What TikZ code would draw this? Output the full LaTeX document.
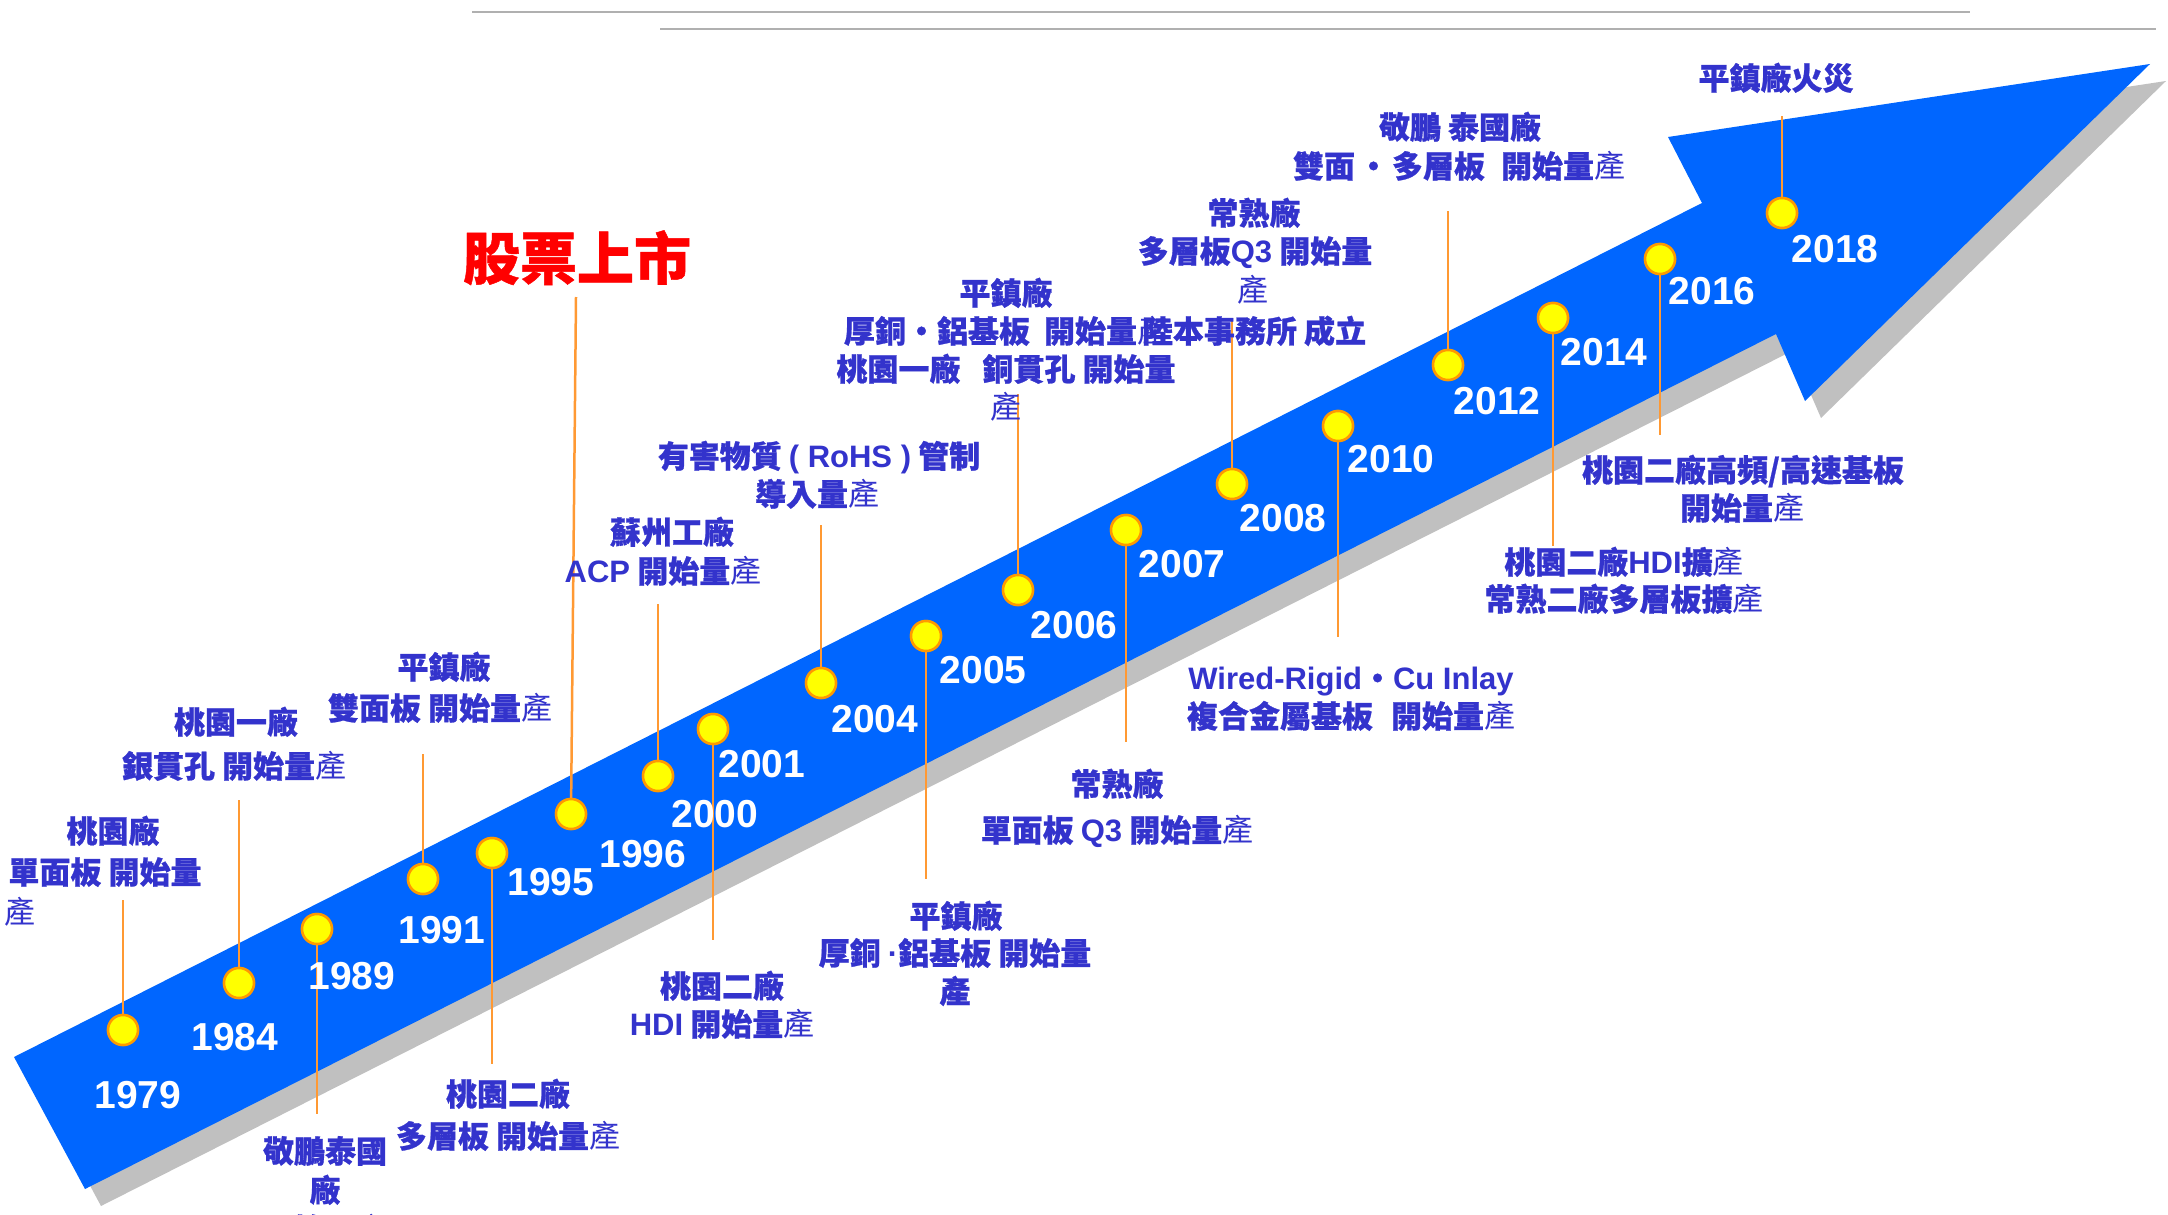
\documentclass[tikz,border=0pt]{standalone}
\usepackage{fontspec}
\newfontfamily\cjk{Noto Sans CJK TC}[BoldFeatures={FakeBold=0.8}]
\newfontfamily\lat{Liberation Sans}
\definecolor{arrowblue}{RGB}{0,102,255}
\definecolor{shadowgray}{RGB}{192,192,192}
\definecolor{lblue}{RGB}{51,51,204}
\definecolor{leadorange}{RGB}{255,153,51}
\definecolor{dotyellow}{RGB}{255,255,0}
\definecolor{dotborder}{RGB}{255,153,0}
\definecolor{rulegray}{RGB}{176,176,176}
\newcommand\cn{{\mdseries 產}}
\begin{document}
\begin{tikzpicture}[x=1pt,y=-1pt,
  lbl/.style={text=lblue, font=\cjk\bfseries\fontsize{31}{39}\selectfont, inner sep=0pt, text height=26pt, text depth=2.5pt},
  yr/.style={text=white, font=\lat\bfseries\fontsize{39}{39}\selectfont, inner sep=0pt, text height=28pt, text depth=0pt},
  titlelbl/.style={text=red, font=\cjk\bfseries\fontsize{57}{57}\selectfont, inner sep=0pt, text height=48pt, text depth=4.5pt},
  dot/.style={circle, minimum size=30pt, inner sep=0pt, fill=dotyellow, draw=dotborder, line width=2.5pt},
  lead/.style={draw=leadorange, line width=2.5pt},
  rule/.style={draw=rulegray, line width=2pt}]
\useasboundingbox (0,0) rectangle (2168,1215);
\clip (0,0) rectangle (2168,1215);
% top rules
\coordinate (r1a) at (472,12); \coordinate (r1b) at (1970,12);
\coordinate (r2a) at (660,29); \coordinate (r2b) at (2156,29);
\draw[rule] (r1a) -- (r1b);
\draw[rule] (r2a) -- (r2b);
% arrow shadow and arrow
\fill[shadowgray, shift={(16,17)}] (14,1057) -- (1702,203) -- (1668,137) -- (2150,64) -- (1805,401) -- (1776,334) -- (85,1189) -- cycle;
\fill[arrowblue] (14,1057) -- (1702,203) -- (1668,137) -- (2150,64) -- (1805,401) -- (1776,334) -- (85,1189) -- cycle;
% line ends
\coordinate (e1979) at (123,900);
\coordinate (e1984) at (239,800);
\coordinate (e1989) at (317,1114);
\coordinate (e1991) at (423,754);
\coordinate (e1995) at (492,1064);
\coordinate (e1996) at (576,297);
\coordinate (e2000) at (658,604);
\coordinate (e2001) at (713,940);
\coordinate (e2004) at (821,525);
\coordinate (e2005) at (926,879);
\coordinate (e2006) at (1018,394);
\coordinate (e2007) at (1126,742);
\coordinate (e2008) at (1232,318);
\coordinate (e2010) at (1338,637);
\coordinate (e2012) at (1448,211);
\coordinate (e2014) at (1553,546);
\coordinate (e2016) at (1660,435);
\coordinate (e2018) at (1782,116);
% dots
\node[dot] (d1979) at (123,1030) {};
\node[dot] (d1984) at (239,983) {};
\node[dot] (d1989) at (317,929) {};
\node[dot] (d1991) at (423,879) {};
\node[dot] (d1995) at (492,853) {};
\node[dot] (d1996) at (571,814) {};
\node[dot] (d2000) at (658,776) {};
\node[dot] (d2001) at (713,729) {};
\node[dot] (d2004) at (821,683) {};
\node[dot] (d2005) at (926,636) {};
\node[dot] (d2006) at (1018,590) {};
\node[dot] (d2007) at (1126,530) {};
\node[dot] (d2008) at (1232,484) {};
\node[dot] (d2010) at (1338,426) {};
\node[dot] (d2012) at (1448,365) {};
\node[dot] (d2014) at (1553,318) {};
\node[dot] (d2016) at (1660,259) {};
\node[dot] (d2018) at (1782,213) {};
% leads
\foreach \y in {1979,1984,1989,1991,1995,1996,2000,2001,2004,2005,2006,2007,2008,2010,2012,2014,2016,2018}
  \draw[lead] (d\y) -- (e\y);
% redraw dots on top of leads
\foreach \y/\px/\py in {1979/123/1030,1984/239/983,1989/317/929,1991/423/879,1995/492/853,1996/571/814,2000/658/776,2001/713/729,2004/821/683,2005/926/636,2006/1018/590,2007/1126/530,2008/1232/484,2010/1338/426,2012/1448/365,2014/1553/318,2016/1660/259,2018/1782/213}
  \node[dot] (dd\y) at (\px,\py) {};
% years
\node[yr] (y1979) at (138,1094) {1979};
\node[yr] (y1984) at (235,1036) {1984};
\node[yr] (y1989) at (352,975) {1989};
\node[yr] (y1991) at (442,929) {1991};
\node[yr] (y1995) at (551,881) {1995};
\node[yr] (y1996) at (643,853) {1996};
\node[yr] (y2000) at (715,813) {2000};
\node[yr] (y2001) at (762,763) {2001};
\node[yr] (y2004) at (875,718) {2004};
\node[yr] (y2005) at (983,669) {2005};
\node[yr] (y2006) at (1074,624) {2006};
\node[yr] (y2007) at (1182,563) {2007};
\node[yr] (y2008) at (1283,517) {2008};
\node[yr] (y2010) at (1391,458) {2010};
\node[yr] (y2012) at (1497,400) {2012};
\node[yr] (y2014) at (1604,351) {2014};
\node[yr] (y2016) at (1712,290) {2016};
\node[yr] (y2018) at (1835,248) {2018};
% labels
\node[lbl] (l1979a) at (113,831) {桃園廠};
\node[lbl] (l1979b) at (105,872) {單面板 開始量};
\node[lbl] (l1979c) at (20,912) {\cn};
\node[lbl] (l1984a) at (236,722) {桃園一廠};
\node[lbl] (l1984b) at (234,766) {銀貫孔 開始量\cn};
\node[lbl] (l1989a) at (325,1151) {敬鵬泰國};
\node[lbl] (l1989b) at (325,1190) {廠};
\node[lbl] (l1989c) at (325,1229) {開始量\cn};
\node[lbl] (l1991a) at (444,667) {平鎮廠};
\node[lbl] (l1991b) at (440,708) {雙面板 開始量\cn};
\node[lbl] (l1995a) at (508,1094) {桃園二廠};
\node[lbl] (l1995b) at (508,1136) {多層板 開始量\cn};
\node[titlelbl] (l1996) at (577,258) {股票上市};
\node[lbl] (l2000a) at (672,532) {蘇州工廠};
\node[lbl] (l2000b) at (663,571) {{\lat ACP} 開始量\cn};
\node[lbl] (l2004a) at (819,456) {有害物質 {\lat ( RoHS )} 管制};
\node[lbl] (l2004b) at (817,494) {導入量\cn};
\node[lbl] (l2001a) at (722,986) {桃園二廠};
\node[lbl] (l2001b) at (722,1024) {{\lat HDI} 開始量\cn};
\node[lbl] (l2005a) at (956,916) {平鎮廠};
\node[lbl] (l2005b) at (955,953) {厚銅 {\lat ·}鋁基板 開始量};
\node[lbl] (l2005c) at (955,991) {產};
\node[lbl] (l2006a) at (1006,293) {平鎮廠};
\node[lbl] (l2006b) at (1006,331) {厚銅・鋁基板\hspace{14pt}開始量\cn};
\node[lbl] (l2006c) at (1006,369) {桃園一廠\hspace{22pt}銅貫孔 開始量};
\node[lbl] (l2006d) at (1006,407) {\cn};
\node[lbl] (l2008a) at (1254,213) {常熟廠};
\node[lbl] (l2008b) at (1255,251) {多層板{\lat Q3} 開始量};
\node[lbl] (l2008c) at (1253,290) {\cn};
\node[lbl] (l2008d) at (1254,331) {陸本事務所 成立};
\node[lbl] (l2007a) at (1117,784) {常熟廠};
\node[lbl] (l2007b) at (1117,830) {單面板 {\lat Q3} 開始量\cn};
\node[lbl] (l2010a) at (1351,678) {{\lat Wired-Rigid}・{\lat Cu Inlay}};
\node[lbl] (l2010b) at (1351,716) {複合金屬基板\hspace{18pt}開始量\cn};
\node[lbl] (l2012a) at (1460,127) {敬鵬 泰國廠};
\node[lbl] (l2012b) at (1459,166) {雙面\hspace{3pt}・\hspace{3pt}多層板\hspace{16pt}開始量\cn};
\node[lbl] (l2014a) at (1624,562) {桃園二廠{\lat HDI}擴\cn};
\node[lbl] (l2014b) at (1624,599) {常熟二廠多層板擴\cn};
\node[lbl] (l2016a) at (1743,470) {桃園二廠高頻/高速基板};
\node[lbl] (l2016b) at (1742,508) {開始量\cn};
\node[lbl] (l2018) at (1776,78) {平鎮廠火災};
\end{tikzpicture}
\end{document}
